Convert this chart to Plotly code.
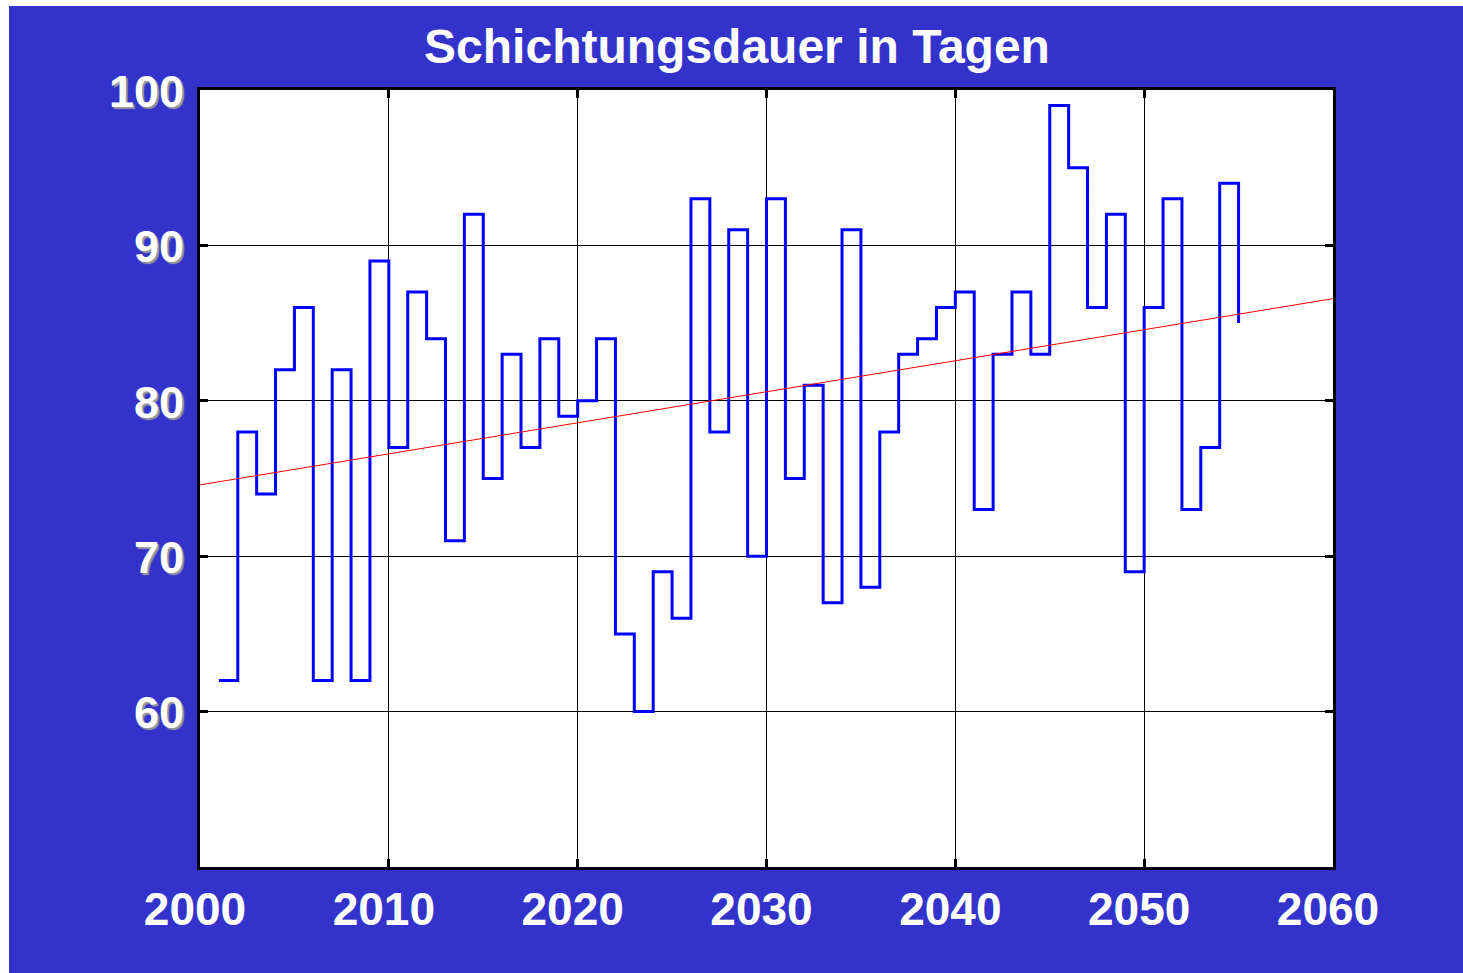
import numpy as np
import plotly.graph_objects as go

# ---- data ----
years = list(range(2001, 2056))
stratification_days = [
    62, 78, 74, 82, 86, 62, 82, 62, 89, 77,
    87, 84, 71, 92, 75, 83, 77, 84, 79, 80,
    84, 65, 60, 69, 66, 93, 78, 91, 70, 93,
    75, 81, 67, 91, 68, 78, 83, 84, 86, 87,
    73, 83, 87, 83, 99, 95, 86, 92, 69, 86,
    93, 73, 77, 94, 85,
]
x_ticks = [2000, 2010, 2020, 2030, 2040, 2050, 2060]
y_ticks = [60, 70, 80, 90, 100]
x_range = [2000, 2060]
y_range = [50, 100]
title_text = "Schichtungsdauer in Tagen"

# linear trend (least squares) over the full axis range
slope, intercept = np.polyfit(years, stratification_days, 1)
trend_x = x_range
trend_y = [slope * x + intercept for x in trend_x]

# ---- figure ----
W, H = 1463, 973
ML, MR, MT, MB = 200, 130, 90, 106
PW, PH = W - ML - MR, H - MT - MB
BLUE = "rgb(51,51,204)"
FONT = "Liberation Sans, Arial, Helvetica, sans-serif"

fig = go.Figure()
fig.add_trace(go.Scatter(
    x=years, y=stratification_days, mode="lines",
    line=dict(shape="hv", color="#0000FF", width=3),
    hoverinfo="skip",
))
fig.add_trace(go.Scatter(
    x=trend_x, y=trend_y, mode="lines",
    line=dict(color="#FF0000", width=1),
    hoverinfo="skip",
))

def px_x(p):
    return (p - ML) / PW

def px_y(p):
    return (H - MB - p) / PH

shapes = [
    # white strip on the left
    dict(type="rect", xref="paper", yref="paper",
         x0=px_x(0), x1=px_x(9), y0=px_y(H), y1=px_y(0),
         fillcolor="white", line=dict(width=0), layer="below"),
    # white strip on top
    dict(type="rect", xref="paper", yref="paper",
         x0=px_x(0), x1=px_x(W), y0=px_y(6), y1=px_y(0),
         fillcolor="white", line=dict(width=0), layer="below"),
]

axis_common = dict(
    showgrid=True, gridcolor="black", gridwidth=1,
    showline=True, linecolor="black", linewidth=3, mirror="ticks",
    ticks="inside", ticklen=8, tickwidth=3, tickcolor="black",
    zeroline=False,
)

fig.update_layout(
    width=W, height=H,
    margin=dict(l=ML, r=MR, t=MT, b=MB, pad=0),
    paper_bgcolor=BLUE, plot_bgcolor="white",
    showlegend=False,
    shapes=shapes,
    title=dict(
        text=title_text, xref="container", yref="container",
        x=737 / W, y=1 - 46 / H, xanchor="center", yanchor="middle",
        font=dict(family=FONT, size=48, color="white", weight="bold"),
    ),
    xaxis=dict(
        range=x_range, tickvals=x_ticks, ticktext=[str(v) for v in x_ticks],
        tickfont=dict(family=FONT, size=46, color="white", weight="bold"),
        ticklabelstandoff=0, ticklabelshift=-5,
        **axis_common,
    ),
    yaxis=dict(
        range=y_range, tickvals=y_ticks, ticktext=[str(v) for v in y_ticks],
        tickfont=dict(family=FONT, size=45, color="white", weight="bold",
                      shadow="2px 2px 1px #9a9a9a"),
        ticklabelstandoff=4, ticklabelshift=1,
        **axis_common,
    ),
)

fig.write_html(
    "out.html",
    config={"displayModeBar": False},
    post_script="document.body.style.margin='0';document.body.style.overflow='hidden';",
)
